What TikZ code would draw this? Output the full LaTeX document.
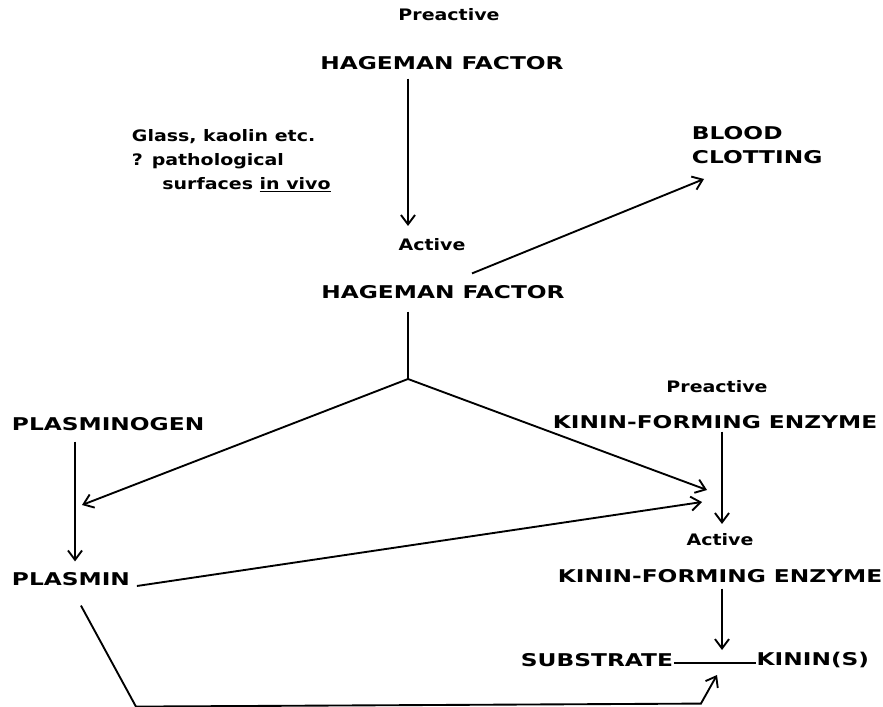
\documentclass[tikz,border=0pt]{standalone}
\usepackage{fontspec}
\usetikzlibrary{arrows.meta}
\newfontfamily\diagfont[FakeStretch=1.325]{DejaVu Sans}
\newfontfamily\notefont[FakeStretch=1.2]{DejaVu Sans}
\tikzset{
  cap label/.style={font=\diagfont\bfseries\fontsize{15}{20.4}\selectfont, inner sep=0pt},
  small label/.style={font=\notefont\bfseries\fontsize{13.5}{20.4}\selectfont, inner sep=0pt},
}
\begin{document}
\begin{tikzpicture}[x=0.03cm, y=-0.03cm, line width=1.6pt,
    >={Straight Barb[length=8pt, width=12pt]}]
  \useasboundingbox (0,0) rectangle (883,707);

  \node [small label] (pre-hf) at (449,15) {Preactive};
  \node [cap label] (hf-pre) at (442,63) {HAGEMAN FACTOR};
  \node [small label] (act-hf) at (432,245) {Active};
  \node [cap label] (hf-act) at (443,292) {HAGEMAN FACTOR};
  \node [small label, align=left, anchor=west] (glass) at (131,161)
    {Glass, kaolin etc.\\? pathological\\\hspace*{26pt}surfaces \underline{in vivo}};
  \node [cap label, align=left, anchor=west] (blood) at (691,145) {BLOOD\\CLOTTING};

  \node [cap label, anchor=west] (plg) at (11,424) {PLASMINOGEN};
  \node [cap label, anchor=west] (pls) at (11,579) {PLASMIN};
  \node [small label] (pre-kfe) at (717,387) {Preactive};
  \node [cap label] (kfe-pre) at (715,422) {KININ-FORMING ENZYME};
  \node [small label] (act-kfe) at (720,540) {Active};
  \node [cap label] (kfe-act) at (720,576) {KININ-FORMING ENZYME};
  \node [cap label, anchor=west] (sub) at (520,660) {SUBSTRATE};
  \node [cap label, anchor=east] (kinin) at (870,660) {KININ(S)};

  \coordinate (split) at (408,379);
  \coordinate (cut) at (722,663);
  \coordinate (to-blood) at (704,179);
  \coordinate (to-pls) at (82,505);
  \coordinate (to-kfe) at (707,490);
  \coordinate (to-kfe2) at (702,502);
  \coordinate (to-sub) at (717,675);

  \draw [->] ([shift={(0,8)}]hf-pre.south -| split) -- ([shift={(0,-12)}]act-hf.north -| split);
  \draw ([shift={(0,12)}]hf-act.south -| split) -- (split);
  \draw [->] ([shift={(29,-11)}]hf-act.north) -- (to-blood);
  \foreach \t in {to-pls, to-kfe}
    \draw [->] (split) -- (\t);

  \draw [->] ([shift={(64,10)}]plg.south west) -- ([shift={(64,-10)}]pls.north west);
  \draw [->] ([shift={(6,7)}]pls.east) -- (to-kfe2);
  \draw [->] ([shift={(10,19)}]pls.south) -- ++(55,101) -- ++(565,-3) -- (to-sub);

  \draw [->] ([shift={(0,2)}]kfe-pre.south -| cut) -- ([shift={(0,-9)}]act-kfe.north -| cut);
  \draw [->] ([shift={(0,5)}]kfe-act.south -| cut) -- ([shift={(0,-13)}]cut);
  \draw [line width=0.9pt] (sub.east |- cut) -- (kinin.west |- cut);
\end{tikzpicture}
\end{document}
